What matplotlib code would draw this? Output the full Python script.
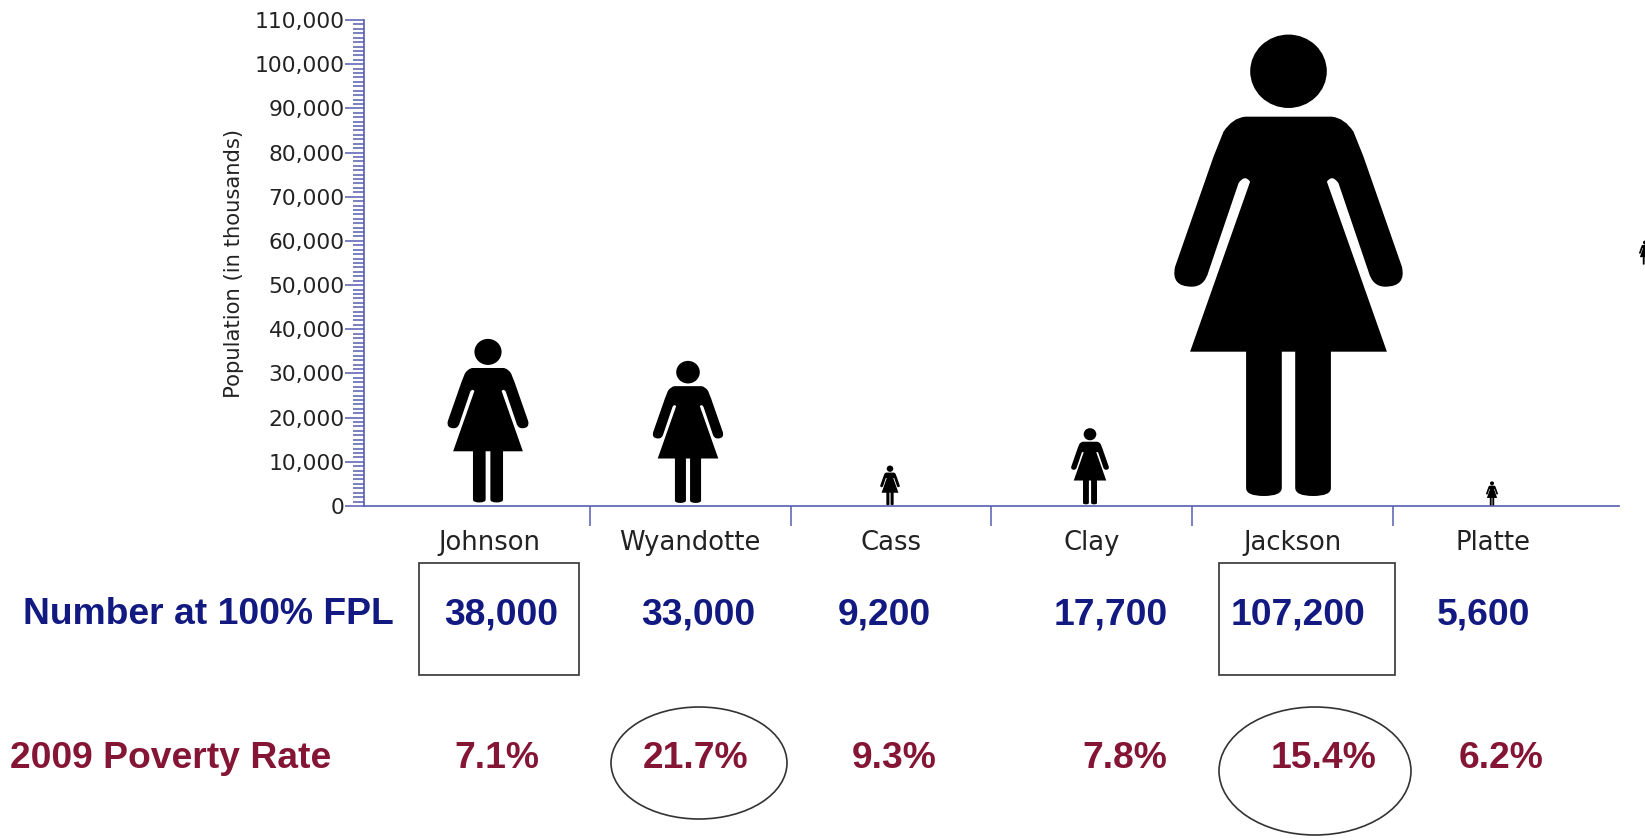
import numpy as np
import matplotlib
matplotlib.use("Agg")
import matplotlib.pyplot as plt
from matplotlib.patches import PathPatch, Rectangle, Ellipse
from matplotlib.path import Path
from matplotlib.ticker import MultipleLocator, FuncFormatter

counties = ["Johnson", "Wyandotte", "Cass", "Clay", "Jackson", "Platte"]
fpl_number = [38000, 33000, 9200, 17700, 107200, 5600]
poverty_rate = [7.1, 21.7, 9.3, 7.8, 15.4, 6.2]

W, H = 1645, 840
AXIS_COLOR = "#555db0"
NAVY = "#121a82"
MAROON = "#851535"
BOX_COLOR = "#333333"

# where things sit, in pixels from the top left
icon_px = [488, 688, 890, 1090, 1288.5, 1492]
fpl_x = [501, 698, 884, 1111, 1298, 1483]
rate_x = [497, 696, 894, 1125, 1324, 1501]
FPL_Y = 615
RATE_Y = 759

fig = plt.figure(figsize=(W / 100, H / 100), dpi=100, facecolor="white")
ax_left, ax_right, ax_top, ax_base = 364, 1619, 20, 506
ax = fig.add_axes([ax_left / W, 1 - ax_base / H, (ax_right - ax_left) / W, (ax_base - ax_top) / H])

cat_px = 200.7
first_px = 489.5
ax.set_xlim((ax_left - first_px) / cat_px, (ax_right - first_px) / cat_px)
ax.set_ylim(0, 110000)
val_px = (ax_base - ax_top) / 110000

################################################################################
# icon outline, left half (px from centre, px above the axis)
M, L, C, Z = Path.MOVETO, Path.LINETO, Path.CURVE3, Path.CLOSEPOLY
left_half = [
    (M, -43.4, 389.3), (C, -56, 388), (C, -65, 374.3), (L, -75, 349.3),
    (L, -113.4, 239.3), (C, -118, 219.3), (C, -96.7, 219.3), (C, -84, 219.3), (C, -80, 234.3),
    (L, -50, 322.7), (C, -44, 332), (C, -38.4, 324.3), (L, -98.4, 154.3),
    (L, -42.4, 154.3), (L, -42.4, 18), (C, -42.4, 10), (C, -24.6, 10), (C, -7, 10), (C, -6.7, 18),
    (L, -6.7, 154.3),
]
codes = [p[0] for p in left_half]
xs = [p[1] for p in left_half]
ys = [p[2] for p in left_half]
# right half is the mirror, walked backwards
right_codes = [L] + codes[:0:-1]
right_x = [-x for x in xs[::-1]]
right_y = ys[::-1]
body_codes = codes + right_codes + [Z]
body_x = np.array(xs + right_x + [xs[0]])
body_y = np.array(ys + right_y + [ys[0]])

circle = Path.unit_circle()
head_x = circle.vertices[:, 0] * 38.3
head_y = 434.7 + circle.vertices[:, 1] * 36.7
icon_x = np.concatenate([body_x, head_x]) / 473.6
icon_y = np.concatenate([body_y, head_y]) / 473.6
icon_codes = body_codes + list(circle.codes)


def person(center_px, value, base=0):
    px = center_px + icon_x * value * val_px
    ys_ = base + icon_y * value
    xs_ = (px - first_px) / cat_px
    patch = PathPatch(Path(np.column_stack([xs_, ys_]), icon_codes), facecolor="black", edgecolor="none", clip_on=False, zorder=3)
    ax.add_patch(patch)


for c, v in zip(icon_px, fpl_number):
    person(c, v)
# the one that is cut off by the right edge of the picture
person(1645, 5600, base=54500)

################################################################################
for s in ["top", "right"]:
    ax.spines[s].set_visible(False)
for s in ["left", "bottom"]:
    ax.spines[s].set_color(AXIS_COLOR)
    ax.spines[s].set_linewidth(1.2)

ax.yaxis.set_major_locator(MultipleLocator(10000))
ax.yaxis.set_minor_locator(MultipleLocator(1000))
ax.yaxis.set_major_formatter(FuncFormatter(lambda v, p: f"{int(v):,}"))
ax.tick_params(axis="y", which="major", length=13.7, width=1.1, color=AXIS_COLOR, labelsize=15.7, labelcolor="#222222", pad=0)
ax.tick_params(axis="y", which="minor", length=8, width=1.1, color=AXIS_COLOR)
ax.set_ylabel("Population (in thousands)", fontsize=15.2, color="#222222", labelpad=7.5)

ax.set_xticks(np.arange(len(counties) - 1) + 0.5)
ax.set_xticklabels([])
ax.set_xticks(np.arange(len(counties)), labels=counties, minor=True)
ax.tick_params(axis="x", which="major", length=14.4, width=1.1, color=AXIS_COLOR)
ax.tick_params(axis="x", which="minor", length=0, labelsize=18.6, labelcolor="#222222", pad=17)

################################################################################
# table under the chart, on a layer in picture pixels
table = fig.add_axes([0, 0, 1, 1], facecolor="none")
table.set_xlim(0, W)
table.set_ylim(H, 0)
table.axis("off")

arial = ["Liberation Sans", "DejaVu Sans"]
table.text(23, FPL_Y, "Number at 100% FPL", color=NAVY, fontsize=26.8, fontweight="bold", family=arial, va="center", ha="left")
table.text(10, RATE_Y, "2009 Poverty Rate", color=MAROON, fontsize=26.8, fontweight="bold", family=arial, va="center", ha="left")
for x, v in zip(fpl_x, fpl_number):
    table.text(x, FPL_Y, f"{v:,}", color=NAVY, fontsize=26.8, fontweight="bold", family=arial, va="center", ha="center")
for x, r in zip(rate_x, poverty_rate):
    table.text(x, RATE_Y, f"{r}%", color=MAROON, fontsize=26.8, fontweight="bold", family=arial, va="center", ha="center")

table.add_patch(Rectangle((418.5, 563), 160, 112, fill=False, edgecolor=BOX_COLOR, linewidth=1.2))
table.add_patch(Rectangle((1219, 563), 176, 112, fill=False, edgecolor=BOX_COLOR, linewidth=1.2))
table.add_patch(Ellipse((699, 763), 176, 112, fill=False, edgecolor=BOX_COLOR, linewidth=1.2))
table.add_patch(Ellipse((1315, 771), 192, 128, fill=False, edgecolor=BOX_COLOR, linewidth=1.2))

plt.savefig("out.png", dpi=100)
